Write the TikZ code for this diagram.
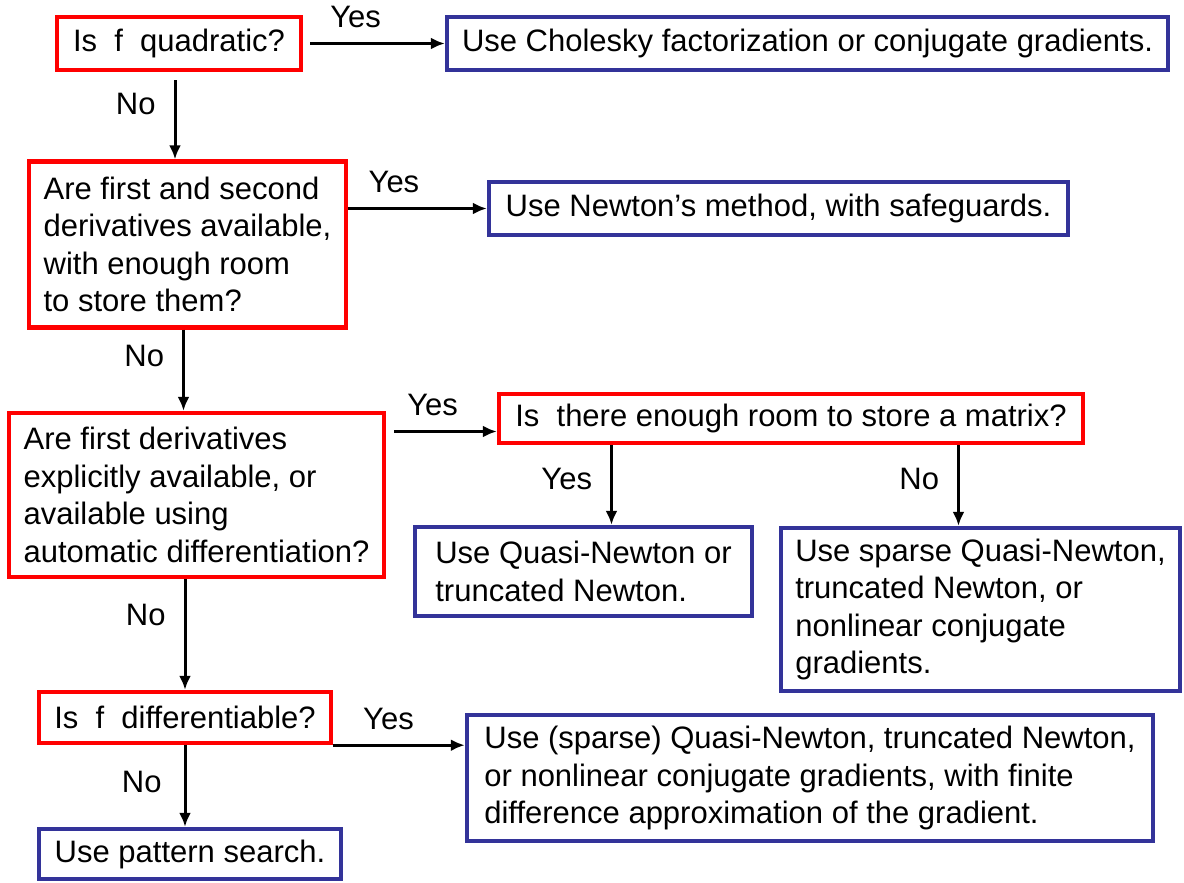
\documentclass[tikz,border=0pt]{standalone}
\usepackage{fontspec}
\setmainfont{Liberation Sans}
\usetikzlibrary{arrows.meta}
\definecolor{qred}{RGB}{255,0,0}
\definecolor{ablue}{RGB}{51,51,153}

\begin{document}
\begin{tikzpicture}[
    x=0.5pt, y=-0.5pt,
    >={Latex[length=7pt,width=6pt]},
    font=\fontsize{15.5pt}{18.75pt}\selectfont,
    question/.style={
      rectangle,
      draw=qred,
      line width=2.2pt,
      align=left,
      inner sep=5pt
    },
    answer/.style={
      rectangle,
      draw=ablue,
      line width=2.2pt,
      align=left,
      inner sep=5pt
    },
    yes/.style={above=5pt, inner sep=2pt},
    no/.style={left=7pt, inner sep=2pt}
  ]
    \useasboundingbox (0,0) rectangle (1184,883);

    % questions
    \node[question, minimum width=122pt, minimum height=26.5pt] (quad) at (179,43.5) {Is\ \ f\ \ quadratic?};
    \node[question, minimum width=158.5pt, minimum height=83pt] (hess) at (187.5,244.5)
      {Are first and second\\derivatives available,\\with enough room\\to store them?};
    \node[question, minimum width=187.5pt, minimum height=82pt] (grad) at (196.5,495)
      {Are first derivatives\\explicitly available, or\\available using\\automatic differentiation?};
    \node[question, minimum width=292pt, minimum height=23.5pt] (room) at (791,418.5)
      {Is\ \ there enough room to store a matrix?};
    \node[question, minimum width=146pt, minimum height=25.5pt] (diff) at (185,717.5)
      {Is\ \ f\ \ differentiable?};

    % answers
    \node[answer, minimum width=360.5pt, minimum height=26.5pt] (chol) at (807.5,43.5)
      {Use Cholesky factorization or conjugate gradients.};
    \node[answer, minimum width=289.5pt, minimum height=26.5pt] (newton) at (778.5,208.5)
      {Use Newton’s method, with safeguards.};
    \node[answer, minimum width=168.5pt, minimum height=44.5pt] (qnewton) at (583.5,571.5)
      {Use Quasi-Newton or\\truncated Newton.};
    \node[answer, minimum width=199.5pt, minimum height=81.5pt] (sparse) at (980.5,609.5)
      {Use sparse Quasi-Newton,\\truncated Newton, or\\nonlinear conjugate\\gradients.};
    \node[answer, minimum width=343pt, minimum height=63pt] (findiff) at (810,778)
      {Use (sparse) Quasi-Newton, truncated Newton,\\or nonlinear conjugate gradients, with finite\\difference approximation of the gradient.};
    \node[answer, minimum width=151pt, minimum height=25pt] (pattern) at (190,854)
      {Use pattern search.};

    \begin{scope}[->, line width=1.5pt]
      \draw[shorten <=3.5pt] (quad.east) -- (chol.west) node[yes, pos=0.37] {Yes};
      \draw[shorten <=4pt] ([xshift=-2pt]quad.south) -- ([xshift=-2pt]quad.south |- hess.north)
        node[no, pos=0.36] {No};
      \draw (hess.east |- newton.west) -- (newton.west) node[yes, pos=0.33] {Yes};
      \draw ([xshift=-2pt]hess.south) -- ([xshift=-2pt]hess.south |- grad.north)
        node[no, pos=0.33] {No};
      \draw[shorten <=4pt] ([yshift=-6.5pt]grad.east |- room.west) -- ([yshift=-6.5pt]room.west)
        node[yes, pos=0.42] {Yes};
      \draw ([xshift=14pt]qnewton.north |- room.south) -- ([xshift=14pt]qnewton.north)
        node[no, pos=0.42] {Yes};
      \draw ([xshift=-11pt]sparse.north |- room.south) -- ([xshift=-11pt]sparse.north)
        node[no, pos=0.42] {No};
      \draw (diff.north |- grad.south) -- (diff.north) node[no, pos=0.32] {No};
      \draw (diff.south east) -- (diff.south east -| findiff.west) node[yes, pos=0.42] {Yes};
      \draw (diff.south) -- (diff.south |- pattern.north) node[no, left=2pt, pos=0.45] {No};
    \end{scope}
  \end{tikzpicture}
\end{document}
